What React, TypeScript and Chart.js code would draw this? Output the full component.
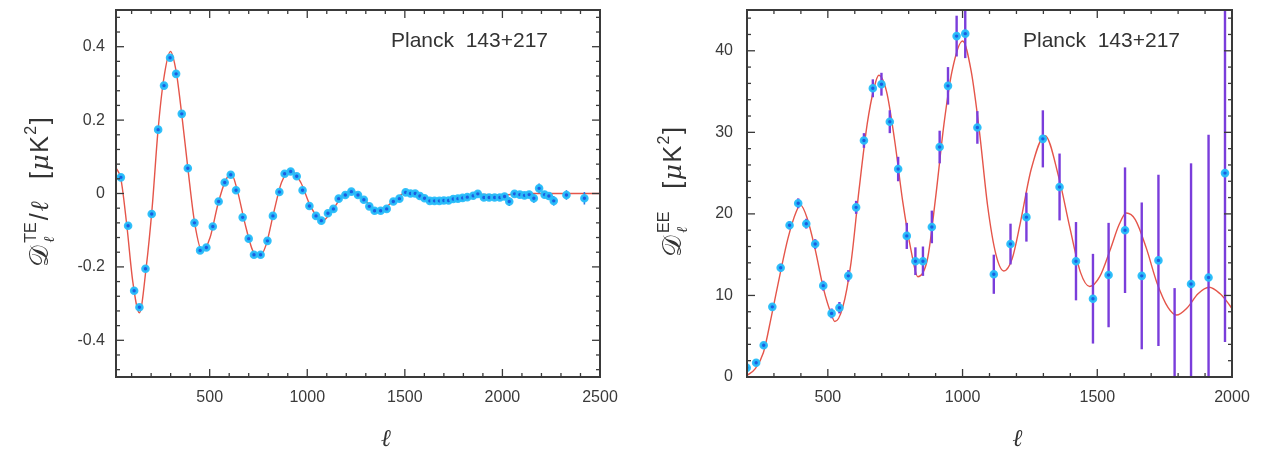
import React, { useEffect, useRef } from 'react';
import { Chart, registerables } from 'chart.js';
Chart.register(...registerables);

// ---------- TE panel data ----------
const teL = [45, 82, 113, 140, 171, 203, 236, 266, 297, 328, 357, 388, 422, 451, 483, 516, 546, 577, 608, 635, 669, 700, 727, 761, 796, 824, 857, 884, 915, 946, 976, 1011, 1045, 1072, 1106, 1134, 1161, 1195, 1226, 1260, 1290, 1318, 1345, 1376, 1407, 1441, 1472, 1504, 1529, 1553, 1577, 1601, 1628, 1652, 1677, 1700, 1724, 1748, 1772, 1796, 1820, 1850, 1874, 1905, 1932, 1960, 1987, 2011, 2035, 2062, 2089, 2113, 2137, 2161, 2188, 2216, 2238, 2263, 2328, 2420];
const teV = [0.044, -0.088, -0.265, -0.31, -0.205, -0.056, 0.174, 0.294, 0.37, 0.326, 0.217, 0.069, -0.08, -0.155, -0.147, -0.09, -0.022, 0.03, 0.051, 0.009, -0.065, -0.123, -0.167, -0.167, -0.129, -0.061, 0.004, 0.054, 0.06, 0.047, 0.009, -0.034, -0.061, -0.074, -0.054, -0.042, -0.014, -0.004, 0.005, -0.004, -0.017, -0.035, -0.047, -0.047, -0.042, -0.022, -0.014, 0.003, 0.0, 0.0, -0.007, -0.013, -0.02, -0.02, -0.02, -0.019, -0.019, -0.015, -0.014, -0.012, -0.01, -0.006, -0.001, -0.011, -0.011, -0.011, -0.011, -0.008, -0.022, -0.001, -0.003, -0.005, -0.003, -0.013, 0.014, -0.003, -0.007, -0.02, -0.004, -0.013];
const teErr = [0.003, 0.003, 0.003, 0.003, 0.003, 0.003, 0.003, 0.003, 0.003, 0.003, 0.003, 0.003, 0.003, 0.003, 0.003, 0.003, 0.003, 0.003, 0.003, 0.003, 0.003, 0.003, 0.003, 0.003, 0.003, 0.003, 0.003, 0.003, 0.003, 0.003, 0.003, 0.003, 0.003, 0.003, 0.003, 0.003, 0.003, 0.003, 0.003, 0.003, 0.003, 0.003, 0.003, 0.003, 0.003, 0.003, 0.003, 0.004, 0.004, 0.004, 0.004, 0.004, 0.004, 0.004, 0.004, 0.005, 0.005, 0.005, 0.005, 0.005, 0.005, 0.006, 0.006, 0.006, 0.006, 0.007, 0.007, 0.007, 0.012, 0.008, 0.008, 0.009, 0.009, 0.012, 0.013, 0.01, 0.01, 0.013, 0.013, 0.017];
const teTheoryL = [20, 45, 76, 106, 140, 175, 205, 235, 264, 299, 329, 358, 388, 423, 462, 502, 542, 581, 611, 641, 680, 720, 754, 789, 829, 868, 918, 967, 1017, 1076, 1136, 1175, 1230, 1294, 1364, 1433, 1512, 1572, 1661, 1760, 1859, 2007, 2106, 2300, 2500];
const teTheoryV = [0.07, 0.04, -0.09, -0.24, -0.325, -0.2, -0.04, 0.17, 0.31, 0.387, 0.33, 0.21, 0.07, -0.08, -0.158, -0.12, -0.03, 0.035, 0.053, 0.01, -0.08, -0.155, -0.172, -0.14, -0.05, 0.03, 0.062, 0.03, -0.035, -0.075, -0.04, -0.01, 0.006, -0.018, -0.048, -0.025, 0.004, -0.004, -0.018, -0.012, -0.002, -0.004, 0.0, 0.0, 0.0];
const teXTicks = [500, 1000, 1500, 2000, 2500];
const teYTicks = [-0.4, -0.2, 0, 0.2, 0.4];

// ---------- EE panel data ----------
const eeL = [199, 234, 262, 294, 325, 358, 390, 420, 453, 483, 514, 543, 576, 605, 634, 667, 699, 730, 761, 793, 825, 853, 886, 915, 946, 978, 1010, 1055, 1116, 1178, 1237, 1298, 1360, 1421, 1484, 1542, 1603, 1665, 1727, 1787, 1848, 1913, 1974];
const eeV = [1.14, 1.75, 3.9, 8.6, 13.4, 18.6, 21.3, 18.8, 16.3, 11.2, 7.8, 8.5, 12.4, 20.8, 29.0, 35.4, 35.9, 31.3, 25.5, 17.3, 14.2, 14.2, 18.4, 28.2, 35.7, 41.8, 42.1, 30.6, 12.6, 16.3, 19.6, 29.2, 23.3, 14.2, 9.6, 12.5, 18.0, 12.4, 14.3, -1.5, 11.4, 12.2, 25.0];
const eeErr = [0.3, 0.3, 0.4, 0.4, 0.5, 0.5, 0.6, 0.6, 0.6, 0.6, 0.6, 0.7, 0.7, 0.8, 0.9, 1.1, 1.4, 1.4, 1.5, 1.6, 1.7, 1.8, 2.0, 2.0, 2.3, 2.5, 3.0, 2.0, 2.4, 2.5, 3.0, 3.5, 4.1, 4.8, 5.5, 6.4, 7.7, 9.0, 10.5, 12.4, 14.8, 17.5, 20.7];
const eeTheoryL = [200, 230, 261, 291, 322, 352, 383, 398, 423, 454, 484, 515, 526, 555, 586, 616, 646, 672, 689, 718, 748, 778, 809, 834, 870, 900, 931, 961, 1000, 1032, 1063, 1093, 1124, 1153, 1184, 1215, 1255, 1306, 1357, 1397, 1438, 1472, 1509, 1550, 1580, 1608, 1641, 1682, 1722, 1763, 1794, 1834, 1874, 1915, 1956, 1980, 2000];
const eeTheoryV = [0.2, 1.0, 3.0, 7.5, 12.5, 17.0, 20.3, 21.1, 19.5, 15.5, 10.8, 7.5, 6.8, 8.5, 14.0, 23.0, 31.0, 35.5, 37.0, 35.0, 29.0, 21.5, 15.5, 12.3, 14.5, 22.0, 31.0, 37.5, 41.2, 37.5, 30.0, 21.0, 15.0, 13.0, 14.5, 19.0, 25.5, 29.6, 24.5, 18.5, 12.8, 11.1, 12.3, 15.8, 18.6, 20.1, 19.3, 15.8, 11.5, 8.5, 7.6, 8.5, 10.2, 11.0, 10.2, 9.3, 8.4];
const eeXTicks = [500, 1000, 1500, 2000];
const eeYTicks = [0, 10, 20, 30, 40];

const annotationText = 'Planck  143+217';
const xTitleText = 'ℓ';

type Run = { t: string; font: string; dy?: number; w?: number } | { stack: { t: string; font: string; dy: number }[] };

const MAIN = '25px "Liberation Sans"';
const MAINI = 'italic 25px "DejaVu Serif"';
const SMALL = '16px "Liberation Sans"';
const teYTitle: Run[] = [
  { t: '𝒟', font: '27px "DejaVu Serif"' },
  { stack: [{ t: 'TE', font: SMALL, dy: -12 }, { t: 'ℓ', font: 'italic 15px "DejaVu Serif"', dy: 6 }] },
  { t: '/', font: MAIN },
  { t: 'ℓ', font: MAINI },
  { t: '   [', font: MAIN },
  { t: 'μ', font: MAINI },
  { t: 'K', font: MAIN },
  { t: '2', font: SMALL, dy: -12 },
  { t: ']', font: MAIN },
];
const eeYTitle: Run[] = [
  { t: '𝒟', font: '27px "DejaVu Serif"' },
  { stack: [{ t: 'EE', font: SMALL, dy: -12 }, { t: 'ℓ', font: 'italic 15px "DejaVu Serif"', dy: 6 }] },
  { t: '   [', font: MAIN },
  { t: 'μ', font: MAINI },
  { t: 'K', font: MAIN },
  { t: '2', font: SMALL, dy: -12 },
  { t: ']', font: MAIN },
];

function drawRuns(ctx: CanvasRenderingContext2D, runs: Run[]) {
  const widths = runs.map((r: any) => {
    if (r.stack) return Math.max(...r.stack.map((s: any) => { ctx.font = s.font; return ctx.measureText(s.t).width; })) + 3;
    ctx.font = r.font; return ctx.measureText(r.t).width + 1.5;
  });
  const total = widths.reduce((a, b) => a + b, 0);
  let x = -total / 2;
  ctx.textBaseline = 'alphabetic';
  ctx.textAlign = 'left';
  runs.forEach((r: any, i) => {
    if (r.stack) {
      r.stack.forEach((s: any) => { ctx.font = s.font; ctx.fillText(s.t, x + 1, s.dy); });
    } else {
      ctx.font = r.font; ctx.fillText(r.t, x, r.dy || 0);
    }
    x += widths[i];
  });
}

type PanelCfg = {
  xs: number[]; ys: number[]; errs: number[]; thX: number[]; thY: number[];
  xMin: number; xMax: number; yMin: number; yMax: number;
  xTicks: number[]; yTicks: number[]; xMinorStep: number; yMinorStep: number;
  yLabel: (v: number) => string; yTitle: Run[];
  padRight: number; yAxisWidth: number; errColor: string; errWidth: number; yPad: number;
};

function Panel({ cfg }: { cfg: PanelCfg }) {
  const ref = useRef<HTMLCanvasElement>(null);
  useEffect(() => {
    const canvas = ref.current!;
    const decor = {
      id: 'decor',
      beforeDatasetDraw(chart: any, args: any) {
        if (args.index !== 0) return;
        const { ctx, chartArea, scales } = chart;
        ctx.save();
        ctx.beginPath();
        ctx.rect(chartArea.left, chartArea.top, chartArea.right - chartArea.left, chartArea.bottom - chartArea.top);
        ctx.clip();
        ctx.strokeStyle = cfg.errColor;
        ctx.lineWidth = cfg.errWidth;
        cfg.xs.forEach((x, i) => {
          const e = cfg.errs[i];
          if (!e) return;
          const px = scales.x.getPixelForValue(x);
          ctx.beginPath();
          ctx.moveTo(px, scales.y.getPixelForValue(cfg.ys[i] - e));
          ctx.lineTo(px, scales.y.getPixelForValue(cfg.ys[i] + e));
          ctx.stroke();
        });
        ctx.restore();
      },
      afterDraw(chart: any) {
        const { ctx, chartArea, scales } = chart;
        const { left, right, top, bottom } = chartArea;
        ctx.save();
        ctx.strokeStyle = '#3a3a3a';
        ctx.lineWidth = 1.3;
        const xs = scales.x, ys = scales.y;
        const xTick = (v: number, len: number) => {
          const p = xs.getPixelForValue(v);
          ctx.beginPath(); ctx.moveTo(p, bottom); ctx.lineTo(p, bottom - len); ctx.stroke();
          ctx.beginPath(); ctx.moveTo(p, top); ctx.lineTo(p, top + len); ctx.stroke();
        };
        const yTick = (v: number, len: number) => {
          const p = ys.getPixelForValue(v);
          ctx.beginPath(); ctx.moveTo(left, p); ctx.lineTo(left + len, p); ctx.stroke();
          ctx.beginPath(); ctx.moveTo(right, p); ctx.lineTo(right - len, p); ctx.stroke();
        };
        const eps = 1e-9;
        for (let v = Math.ceil(cfg.xMin / cfg.xMinorStep) * cfg.xMinorStep; v < cfg.xMax - eps; v += cfg.xMinorStep) {
          if (v <= cfg.xMin + eps) continue;
          const major = cfg.xTicks.some(t => Math.abs(t - v) < 1e-6);
          xTick(v, major ? 8 : 4);
        }
        const ny = Math.round((cfg.yMax - cfg.yMin) / cfg.yMinorStep);
        for (let k = 1; k < ny + 2; k++) {
          const v = Math.ceil(cfg.yMin / cfg.yMinorStep - 1e-6) * cfg.yMinorStep + (k - 1) * cfg.yMinorStep;
          if (v <= cfg.yMin + 1e-6 || v >= cfg.yMax - 1e-6) continue;
          const major = cfg.yTicks.some(t => Math.abs(t - v) < 1e-6);
          yTick(v, major ? 8 : 4);
        }
        ctx.lineWidth = 2;
        ctx.strokeRect(left, top, right - left, bottom - top);
        ctx.fillStyle = '#333';
        ctx.font = '21px "Liberation Sans"';
        ctx.textAlign = 'right';
        ctx.textBaseline = 'alphabetic';
        ctx.fillText(annotationText, right - 52, 47);
        ctx.font = 'italic 24px "DejaVu Serif"';
        ctx.textAlign = 'center';
        ctx.textBaseline = 'middle';
        ctx.fillText(xTitleText, (left + right) / 2 + 28, 440);
        ctx.translate(48, (top + bottom) / 2 - 2);
        ctx.rotate(-Math.PI / 2);
        drawRuns(ctx, cfg.yTitle);
        ctx.restore();
      },
    };
    const chart = new Chart(canvas, {
      type: 'scatter',
      data: {
        datasets: [
          {
            data: cfg.xs.map((x, i) => ({ x, y: cfg.ys[i] })),
            pointRadius: 3,
            pointBorderWidth: 2.6,
            pointBackgroundColor: '#1c5ee0',
            pointBorderColor: 'rgba(40,190,250,0.95)',
            showLine: false,
          },
          {
            data: cfg.thX.map((x, i) => ({ x, y: cfg.thY[i] })),
            showLine: true,
            pointRadius: 0,
            borderColor: '#e5554a',
            borderWidth: 1.4,
            cubicInterpolationMode: 'monotone',
            fill: false,
          },
        ],
      },
      options: {
        responsive: false,
        animation: false,
        devicePixelRatio: 1,
        layout: { padding: { left: 0, right: cfg.padRight, top: 10, bottom: 0 } },
        plugins: { legend: { display: false }, tooltip: { enabled: false } },
        scales: {
          x: {
            type: 'linear', min: cfg.xMin, max: cfg.xMax,
            grid: { display: false, drawTicks: false },
            border: { display: false },
            afterBuildTicks: (s: any) => { s.ticks = cfg.xTicks.map(v => ({ value: v })); },
            afterFit: (s: any) => { s.height = 457 - 376 - 1; s.paddingLeft = 0; s.paddingRight = 0; },
            ticks: { padding: 11, color: '#3a3a3a', font: { family: 'Liberation Sans', size: 16 }, maxRotation: 0, autoSkip: false, callback: (v: any) => String(v) },
          },
          y: {
            type: 'linear', min: cfg.yMin, max: cfg.yMax,
            grid: { display: false, drawTicks: false },
            border: { display: false },
            afterBuildTicks: (s: any) => { s.ticks = cfg.yTicks.map(v => ({ value: v })); },
            afterFit: (s: any) => { s.width = cfg.yAxisWidth; s.paddingTop = 0; s.paddingBottom = 0; },
            ticks: { padding: cfg.yPad, color: '#3a3a3a', font: { family: 'Liberation Sans', size: 16 }, autoSkip: false, callback: (v: any) => cfg.yLabel(Number(v)) },
          },
        },
      },
      plugins: [decor],
    } as any);
    return () => chart.destroy();
  }, [cfg]);
  return <canvas ref={ref} width={633} height={457} style={{ width: 633, height: 457, display: 'block' }} />;
}

const teCfg: PanelCfg = {
  xs: teL, ys: teV, errs: teErr, thX: teTheoryL, thY: teTheoryV,
  xMin: 20, xMax: 2500, yMin: -0.5, yMax: 0.5,
  xTicks: teXTicks, yTicks: teYTicks, xMinorStep: 100, yMinorStep: 0.04,
  yLabel: (v) => (Math.abs(v) < 1e-9 ? '0' : v.toFixed(1)), yTitle: teYTitle,
  padRight: 33, yAxisWidth: 116, errColor: '#2a78e6', errWidth: 1.6, yPad: 11,
};
const eeCfg: PanelCfg = {
  xs: eeL, ys: eeV, errs: eeErr, thX: eeTheoryL, thY: eeTheoryV,
  xMin: 200, xMax: 2000, yMin: 0, yMax: 45,
  xTicks: eeXTicks, yTicks: eeYTicks, xMinorStep: 100, yMinorStep: 2,
  yLabel: (v) => String(Math.round(v)), yTitle: eeYTitle,
  padRight: 34, yAxisWidth: 114, errColor: '#7a3ddb', errWidth: 2.4, yPad: 14,
};

export default function App() {
  return (
    <div style={{ position: 'absolute', left: 0, top: 0, width: 1266, height: 457, display: 'flex', background: '#fff' }}>
      <Panel cfg={teCfg} />
      <Panel cfg={eeCfg} />
    </div>
  );
}
